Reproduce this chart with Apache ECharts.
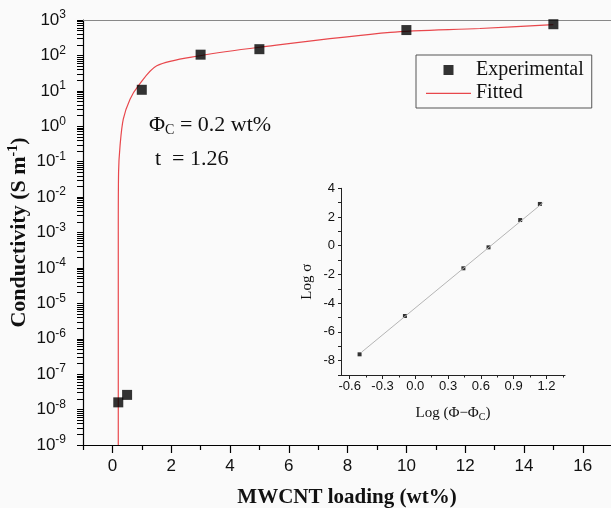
<!DOCTYPE html>
<html><head><meta charset="utf-8">
<script src="https://cdn.jsdelivr.net/npm/echarts@6/dist/echarts.min.js"></script>
<style>html,body{margin:0;padding:0;background:#fafafa}#c{width:611px;height:508px}</style>
</head><body><div id="c"></div>
<script>
// Main plot data
const loading = [0.2, 0.5, 1, 3, 5, 10, 15];
const conductivity = [1.6e-8, 2.6e-8, 10.7, 105, 150, 520, 760];
// Fitted curve
const fitLoading = [0.2, 0.2, 0.21, 0.26, 0.37, 0.6, 0.88, 1.51, 2.98, 5.0, 9.45, 12.5, 15.0];
const fitCond = [1e-9, 1e-3, 0.05, 0.28, 1.6, 5.8, 13.8, 51, 98, 170, 447, 575, 740];
// Tick labels
const xTicks = [0, 2, 4, 6, 8, 10, 12, 14, 16];
const xMinor = [-1, 1, 3, 5, 7, 9, 11, 13, 15];
const yExponents = [-9, -8, -7, -6, -5, -4, -3, -2, -1, 0, 1, 2, 3];
// Inset data
const insetX = [-0.51, -0.095, 0.44, 0.67, 0.96, 1.14];
const insetY = [-7.56, -4.89, -1.57, -0.11, 1.79, 2.91];
const insetFitX = [-0.49, 1.17];
const insetFitY = [-7.4, 3.0];
const insetXTicks = [-0.6, -0.3, 0.0, 0.3, 0.6, 0.9, 1.2];
const insetXMinor = [-0.45, -0.15, 0.15, 0.45, 0.75, 1.05, 1.35];
const insetYTicks = [-8, -6, -4, -2, 0, 2, 4];
const insetYAllTicks = [-9, -8, -7, -6, -5, -4, -3, -2, -1, 0, 1, 2, 3, 4];

// tick positions in decade units (major + log-spaced minor) for the visible main y axis
const yTickExp = yExponents.slice();
yExponents.slice(0, -1).forEach(e => { for (let k = 2; k <= 9; k++) yTickExp.push(e + Math.log10(k)); });

const sans = 'Liberation Sans';
const serif = 'Liberation Serif';

const chart = echarts.init(document.getElementById('c'));
chart.setOption({
  backgroundColor: '#fafafa',
  animation: false,
  grid: [
    {left: 83, top: 20, right: 0, height: 425, outerBoundsMode: 'none', containLabel: false},
    {left: 341, top: 188.3, width: 224, height: 186.7, outerBoundsMode: 'none', containLabel: false}
  ],
  xAxis: [
    {gridIndex: 0, type: 'value', min: -1, max: 16.96, position: 'bottom',
     axisLine: {show: true, onZero: false, lineStyle: {color: '#000', width: 1.2}},
     axisTick: {show: true, customValues: xTicks, length: 8, lineStyle: {color: '#000', width: 1.2}},
     axisLabel: {customValues: xTicks, color: '#111', fontFamily: sans, fontSize: 17, margin: 13},
     splitLine: {show: false},
     name: 'MWCNT loading (wt%)', nameLocation: 'middle', nameGap: 42, nameMoveOverlap: false,
     nameTextStyle: {fontFamily: serif, fontWeight: 'bold', fontSize: 21, color: '#111'}},
    {gridIndex: 0, type: 'value', min: -1, max: 16.96, position: 'bottom',
     axisLine: {show: false, onZero: false},
     axisTick: {show: true, customValues: xMinor, length: 5, lineStyle: {color: '#000', width: 1.2}},
     axisLabel: {show: false}, splitLine: {show: false}},
    {gridIndex: 0, type: 'value', min: -1, max: 16.96, position: 'top',
     axisLine: {show: true, onZero: false, lineStyle: {color: '#888', width: 1}}, axisTick: {show: false},
     axisLabel: {show: false}, splitLine: {show: false}},
    {gridIndex: 1, type: 'value', min: -0.68, max: 1.37, position: 'bottom',
     axisLine: {show: true, onZero: false, lineStyle: {color: '#222', width: 1}},
     axisTick: {show: true, customValues: insetXTicks, length: 4, lineStyle: {color: '#222'}},
     axisLabel: {customValues: insetXTicks, color: '#111', fontFamily: sans, fontSize: 13, margin: 5,
       formatter: v => v.toFixed(1)},
     splitLine: {show: false},
     name: '{t|Log (Φ−Φ}{s|C}{t|)}', nameLocation: 'middle', nameGap: 30,
     nameTextStyle: {rich: {t: {fontFamily: serif, fontSize: 15, color: '#111'},
       s: {fontFamily: serif, fontSize: 10, color: '#111', verticalAlign: 'bottom', padding: [7, 0, 0, 0]}}}},
    {gridIndex: 1, type: 'value', min: -0.68, max: 1.37, position: 'bottom',
     axisLine: {show: false, onZero: false},
     axisTick: {show: true, customValues: insetXMinor, length: 2.5, lineStyle: {color: '#222'}},
     axisLabel: {show: false}, splitLine: {show: false}}
  ],
  yAxis: [
    // visible main y axis: line, ticks, 10^n labels, title (decade units)
    {gridIndex: 0, type: 'value', min: -9, max: 3, position: 'left',
     axisLine: {show: true, onZero: false, lineStyle: {color: '#000', width: 1.2}},
     axisTick: {show: true, customValues: yTickExp, length: 6, lineStyle: {color: '#000', width: 1}},
     axisLabel: {customValues: yExponents, margin: 17,
       formatter: v => '{b|10}{s|' + Math.round(v) + '}',
       rich: {b: {fontFamily: sans, fontSize: 17, color: '#111'},
              s: {fontFamily: sans, fontSize: 12, color: '#111', verticalAlign: 'top', padding: [0, 0, 10, 0]}}},
     splitLine: {show: false},
     name: '{b|Conductivity (S m}{s|-1}{b|)}', nameLocation: 'middle', nameGap: 51, nameRotate: 90,
     nameMoveOverlap: false,
     nameTextStyle: {rich: {b: {fontFamily: serif, fontWeight: 'bold', fontSize: 22, color: '#111'},
       s: {fontFamily: serif, fontWeight: 'bold', fontSize: 14, color: '#111', verticalAlign: 'top', padding: [0, 0, 12, 0]}}}},
    // log scale used to place the conductivity data
    {gridIndex: 0, type: 'log', min: 1e-9, max: 1e3, logBase: 10, position: 'left',
     axisLine: {show: false, onZero: false}, axisTick: {show: false},
     axisLabel: {show: false}, splitLine: {show: false}},
    // inset y axis
    {gridIndex: 1, type: 'value', min: -9, max: 4, position: 'left',
     axisLine: {show: true, onZero: false, lineStyle: {color: '#222', width: 1}},
     axisTick: {show: true, customValues: insetYAllTicks, length: 3, lineStyle: {color: '#222'}},
     axisLabel: {customValues: insetYTicks, color: '#111', fontFamily: sans, fontSize: 13, margin: 6},
     splitLine: {show: false},
     name: 'Log σ', nameLocation: 'middle', nameGap: 26, nameMoveOverlap: false,
     nameTextStyle: {fontFamily: serif, fontSize: 15, color: '#111'}}
  ],
  legend: {
    left: 416, top: 55, orient: 'vertical', itemWidth: 45, itemHeight: 11, itemGap: 3, itemTextGap: 5,
    borderColor: '#555', borderWidth: 1, padding: [5, 8, 5, 10],
    textStyle: {fontFamily: serif, fontSize: 20, lineHeight: 20, color: '#111'},
    data: [
      {name: 'Experimental', icon: 'path://M0,0 M45,11 M17.5,0.5 h10 v10 h-10 z'},
      {name: 'Fitted', icon: 'path://M0,0 M45,11 M0,5.2 h45 v1.2 h-45 z'}
    ]
  },
  series: [
    {name: 'Fitted', type: 'line', xAxisIndex: 0, yAxisIndex: 1,
     data: fitLoading.map((x, i) => [x, fitCond[i]]), smooth: 0.3, showSymbol: false, symbol: 'none',
     lineStyle: {color: '#e8474c', width: 1.2}, itemStyle: {color: '#e8474c'}, z: 2},
    {name: 'Experimental', type: 'scatter', xAxisIndex: 0, yAxisIndex: 1,
     data: loading.map((x, i) => [x, conductivity[i]]), symbol: 'rect', symbolSize: 10,
     itemStyle: {color: '#000'}, z: 3},
    {name: 'insetFit', type: 'line', xAxisIndex: 3, yAxisIndex: 2,
     data: insetFitX.map((x, i) => [x, insetFitY[i]]), showSymbol: false, symbol: 'none',
     lineStyle: {color: '#b5b5b5', width: 1}},
    {name: 'insetPts', type: 'scatter', xAxisIndex: 3, yAxisIndex: 2,
     data: insetX.map((x, i) => [x, insetY[i]]), symbol: 'rect', symbolSize: 4,
     itemStyle: {color: '#000'}}
  ],
  graphic: [
    {type: 'text', left: 149, top: 114,
     style: {text: '{t|Φ}{s|C}{t| = 0.2 wt%}', rich: {
       t: {fontFamily: serif, fontSize: 22, fill: '#111'},
       s: {fontFamily: serif, fontSize: 14, fill: '#111', verticalAlign: 'bottom', padding: [11, 0, 0, 0]}}}},
    {type: 'text', left: 155, top: 148,
     style: {text: 't  = 1.26', fontFamily: serif, fontSize: 22, fill: '#111'}}
  ]
});
</script></body></html>
